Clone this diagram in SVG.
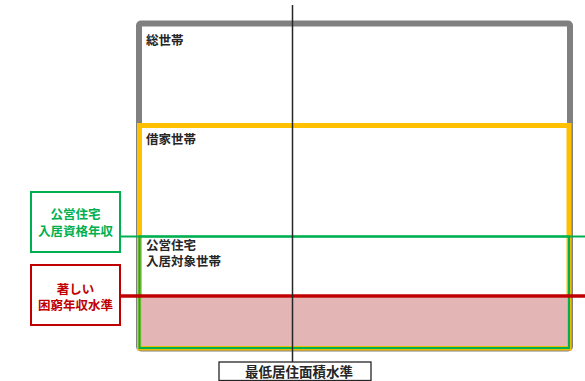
<svg xmlns="http://www.w3.org/2000/svg" width="585" height="381" viewBox="0 0 585 381">
<style>
text{font-family:"Liberation Sans","Noto Sans CJK JP",sans-serif;font-weight:bold;font-size:12.5px}
.dark{fill:#262626}
.g{fill:#00b050;text-anchor:middle}
.r{fill:#c00000;text-anchor:middle}
</style>
<rect width="585" height="381" fill="#ffffff"/>
<g id="total">
<rect x="139" y="23.5" width="431" height="325" rx="2" fill="#ffffff" stroke="#808080" stroke-width="6"/>
<text class="dark" x="146" y="45">総世帯</text>
</g>
<g id="rental">
<rect x="139.5" y="125.5" width="429.5" height="222.5" fill="#ffffff" stroke="#ffc000" stroke-width="5"/>
<text class="dark" x="146" y="144">借家世帯</text>
</g>
<g id="eligible">
<rect x="142" y="297.5" width="425" height="48.5" fill="#e3b5b5"/>
<rect x="139.5" y="236.5" width="429.5" height="111.5" fill="none" stroke="#00b050" stroke-width="2.2"/>
<text class="dark" x="146" y="250">公営住宅</text>
<text class="dark" x="146" y="266">入居対象世帯</text>
</g>
<g id="connectors">
<line x1="120" y1="236.5" x2="585" y2="236.5" stroke="#00b050" stroke-width="2"/>
<line x1="120" y1="296" x2="585" y2="296" stroke="#c00000" stroke-width="3.5"/>
<line x1="292.5" y1="5" x2="292.5" y2="362" stroke="#262626" stroke-width="1.5"/>
</g>
<g id="income-limit">
<rect x="31" y="192" width="89" height="60" fill="#ffffff" stroke="#00b050" stroke-width="2"/>
<text class="g" x="75.5" y="219">公営住宅</text>
<text class="g" x="75.5" y="236">入居資格年収</text>
</g>
<g id="hardship">
<rect x="31" y="265" width="89" height="60" fill="#ffffff" stroke="#c00000" stroke-width="2"/>
<text class="r" x="75.5" y="294">著しい</text>
<text class="r" x="75.5" y="310">困窮年収水準</text>
</g>
<g id="min-area">
<rect x="219" y="362" width="152" height="18.5" fill="#ffffff" stroke="#262626" stroke-width="1.3"/>
<text class="dark" x="299" y="377" text-anchor="middle" style="font-size:13.5px">最低居住面積水準</text>
</g>
</svg>
